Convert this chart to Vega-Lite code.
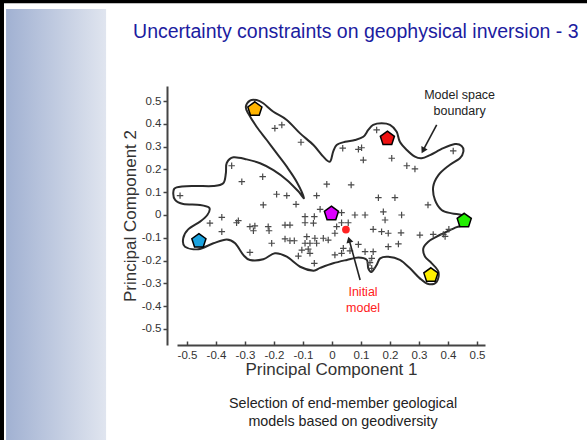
{
  "$schema": "https://vega.github.io/schema/vega-lite/v6.json",
  "width": 308,
  "height": 259,
  "autosize": {"type": "none"},
  "padding": {"left": 177, "top": 86, "right": 102, "bottom": 95},
  "background": "white",
  "config": {"view": {"stroke": null}, "font": "Liberation Sans"},
  "datasets": {
    "frame": [
      {"part": "sidebar", "x": -1.124, "x2": -0.779, "y": 0.904, "y2": -0.99},
      {"part": "top", "x": -1.15, "x2": 0.88, "y": 0.937, "y2": 0.937},
      {"part": "left", "x": -1.138, "x2": -1.138, "y": 0.945, "y2": -0.99}
    ],
    "boundary": [
      {"i": 1, "x": -0.547, "y": 0.102}, {"i": 2, "x": -0.536, "y": 0.121}, {"i": 3, "x": -0.478, "y": 0.127},
      {"i": 4, "x": -0.409, "y": 0.127}, {"i": 5, "x": -0.375, "y": 0.139}, {"i": 6, "x": -0.366, "y": 0.183},
      {"i": 7, "x": -0.363, "y": 0.228}, {"i": 8, "x": -0.340, "y": 0.253}, {"i": 9, "x": -0.294, "y": 0.244},
      {"i": 10, "x": -0.248, "y": 0.227}, {"i": 11, "x": -0.202, "y": 0.197}, {"i": 12, "x": -0.156, "y": 0.154},
      {"i": 13, "x": -0.117, "y": 0.105}, {"i": 14, "x": -0.097, "y": 0.075}, {"i": 15, "x": -0.122, "y": 0.146},
      {"i": 16, "x": -0.156, "y": 0.212}, {"i": 17, "x": -0.191, "y": 0.271}, {"i": 18, "x": -0.225, "y": 0.329},
      {"i": 19, "x": -0.260, "y": 0.387}, {"i": 20, "x": -0.289, "y": 0.446}, {"i": 21, "x": -0.297, "y": 0.475},
      {"i": 22, "x": -0.283, "y": 0.502}, {"i": 23, "x": -0.260, "y": 0.504}, {"i": 24, "x": -0.237, "y": 0.490},
      {"i": 25, "x": -0.202, "y": 0.453}, {"i": 26, "x": -0.156, "y": 0.417}, {"i": 27, "x": -0.110, "y": 0.358},
      {"i": 28, "x": -0.064, "y": 0.307}, {"i": 29, "x": -0.030, "y": 0.256}, {"i": 30, "x": -0.007, "y": 0.234},
      {"i": 31, "x": 0.004, "y": 0.278}, {"i": 32, "x": 0.016, "y": 0.307}, {"i": 33, "x": 0.045, "y": 0.321},
      {"i": 34, "x": 0.079, "y": 0.329}, {"i": 35, "x": 0.108, "y": 0.343}, {"i": 36, "x": 0.125, "y": 0.373},
      {"i": 37, "x": 0.142, "y": 0.395}, {"i": 38, "x": 0.171, "y": 0.402}, {"i": 39, "x": 0.200, "y": 0.395},
      {"i": 40, "x": 0.223, "y": 0.365}, {"i": 41, "x": 0.234, "y": 0.321}, {"i": 42, "x": 0.258, "y": 0.285},
      {"i": 43, "x": 0.286, "y": 0.256}, {"i": 44, "x": 0.309, "y": 0.249}, {"i": 45, "x": 0.338, "y": 0.263},
      {"i": 46, "x": 0.384, "y": 0.293}, {"i": 47, "x": 0.424, "y": 0.311}, {"i": 48, "x": 0.447, "y": 0.303},
      {"i": 49, "x": 0.453, "y": 0.278}, {"i": 50, "x": 0.441, "y": 0.249}, {"i": 51, "x": 0.401, "y": 0.215},
      {"i": 52, "x": 0.367, "y": 0.175}, {"i": 53, "x": 0.349, "y": 0.124}, {"i": 54, "x": 0.355, "y": 0.066},
      {"i": 55, "x": 0.378, "y": 0.022}, {"i": 56, "x": 0.413, "y": 0.007}, {"i": 57, "x": 0.447, "y": 0.000},
      {"i": 58, "x": 0.469, "y": -0.018}, {"i": 59, "x": 0.452, "y": -0.044}, {"i": 60, "x": 0.430, "y": -0.053},
      {"i": 61, "x": 0.396, "y": -0.073}, {"i": 62, "x": 0.361, "y": -0.095}, {"i": 63, "x": 0.332, "y": -0.117},
      {"i": 64, "x": 0.315, "y": -0.146}, {"i": 65, "x": 0.321, "y": -0.183}, {"i": 66, "x": 0.344, "y": -0.212},
      {"i": 67, "x": 0.367, "y": -0.249}, {"i": 68, "x": 0.361, "y": -0.293}, {"i": 69, "x": 0.332, "y": -0.303},
      {"i": 70, "x": 0.303, "y": -0.278}, {"i": 71, "x": 0.269, "y": -0.234}, {"i": 72, "x": 0.234, "y": -0.197},
      {"i": 73, "x": 0.194, "y": -0.183}, {"i": 74, "x": 0.166, "y": -0.190}, {"i": 75, "x": 0.154, "y": -0.219},
      {"i": 76, "x": 0.137, "y": -0.249}, {"i": 77, "x": 0.125, "y": -0.234}, {"i": 78, "x": 0.120, "y": -0.197},
      {"i": 79, "x": 0.091, "y": -0.186}, {"i": 80, "x": 0.051, "y": -0.197}, {"i": 81, "x": 0.004, "y": -0.212},
      {"i": 82, "x": -0.041, "y": -0.232}, {"i": 83, "x": -0.064, "y": -0.244}, {"i": 84, "x": -0.110, "y": -0.227},
      {"i": 85, "x": -0.156, "y": -0.183}, {"i": 86, "x": -0.197, "y": -0.168}, {"i": 87, "x": -0.237, "y": -0.194},
      {"i": 88, "x": -0.283, "y": -0.197}, {"i": 89, "x": -0.306, "y": -0.175}, {"i": 90, "x": -0.334, "y": -0.124},
      {"i": 91, "x": -0.363, "y": -0.107}, {"i": 92, "x": -0.409, "y": -0.124}, {"i": 93, "x": -0.461, "y": -0.150},
      {"i": 94, "x": -0.507, "y": -0.139}, {"i": 95, "x": -0.513, "y": -0.102}, {"i": 96, "x": -0.496, "y": -0.063},
      {"i": 97, "x": -0.455, "y": -0.029}, {"i": 98, "x": -0.430, "y": 0.000}, {"i": 99, "x": -0.423, "y": 0.031},
      {"i": 100, "x": -0.455, "y": 0.044}, {"i": 101, "x": -0.513, "y": 0.048}, {"i": 102, "x": -0.541, "y": 0.066}
    ],
    "samples": [
      {"x": -0.197, "y": 0.380}, {"x": -0.173, "y": 0.395}, {"x": -0.107, "y": 0.319}, {"x": -0.346, "y": 0.216},
      {"x": -0.239, "y": 0.168}, {"x": -0.311, "y": 0.146}, {"x": -0.018, "y": 0.135}, {"x": -0.191, "y": 0.091},
      {"x": -0.156, "y": 0.085}, {"x": -0.053, "y": 0.085}, {"x": -0.237, "y": 0.044}, {"x": -0.124, "y": 0.047},
      {"x": -0.041, "y": 0.025}, {"x": 0.037, "y": 0.293}, {"x": 0.091, "y": 0.288}, {"x": 0.102, "y": 0.295},
      {"x": 0.154, "y": 0.373}, {"x": 0.108, "y": 0.241}, {"x": 0.206, "y": 0.249}, {"x": 0.258, "y": 0.216},
      {"x": 0.286, "y": 0.202}, {"x": 0.418, "y": 0.281}, {"x": 0.066, "y": 0.132}, {"x": 0.160, "y": 0.076},
      {"x": 0.217, "y": 0.076}, {"x": 0.331, "y": 0.044}, {"x": -0.524, "y": 0.085},
      {"x": 0.033, "y": 0.010}, {"x": 0.079, "y": 0.0}, {"x": 0.114, "y": 0.0}, {"x": 0.177, "y": 0.014},
      {"x": 0.183, "y": -0.022}, {"x": 0.240, "y": 0.0},
      {"x": 0.016, "y": -0.051}, {"x": 0.033, "y": -0.034}, {"x": 0.056, "y": -0.034}, {"x": 0.010, "y": -0.080},
      {"x": 0.142, "y": -0.063}, {"x": 0.171, "y": -0.073}, {"x": 0.194, "y": -0.080}, {"x": 0.238, "y": -0.078},
      {"x": 0.303, "y": -0.088}, {"x": 0.349, "y": -0.085}, {"x": 0.384, "y": -0.085}, {"x": 0.390, "y": -0.094},
      {"x": 0.403, "y": -0.063}, {"x": 0.091, "y": -0.129}, {"x": 0.229, "y": -0.127}, {"x": 0.194, "y": -0.139},
      {"x": 0.039, "y": -0.146}, {"x": 0.033, "y": -0.168}, {"x": 0.062, "y": -0.157}, {"x": 0.114, "y": -0.161},
      {"x": 0.142, "y": -0.161}, {"x": 0.010, "y": -0.175}, {"x": 0.137, "y": -0.190}, {"x": 0.131, "y": -0.209},
      {"x": 0.137, "y": -0.234},
      {"x": -0.380, "y": -0.010}, {"x": -0.421, "y": -0.036}, {"x": -0.329, "y": -0.034}, {"x": -0.323, "y": -0.025},
      {"x": -0.380, "y": -0.073}, {"x": -0.283, "y": -0.051}, {"x": -0.266, "y": -0.048}, {"x": -0.271, "y": -0.069},
      {"x": -0.220, "y": -0.051}, {"x": -0.217, "y": -0.069}, {"x": -0.162, "y": -0.044}, {"x": -0.145, "y": -0.044},
      {"x": -0.093, "y": -0.007}, {"x": -0.061, "y": -0.007}, {"x": -0.093, "y": -0.034}, {"x": -0.064, "y": -0.036},
      {"x": -0.208, "y": -0.124}, {"x": -0.162, "y": -0.105}, {"x": -0.145, "y": -0.113}, {"x": -0.130, "y": -0.113},
      {"x": -0.087, "y": -0.095}, {"x": -0.059, "y": -0.102}, {"x": -0.030, "y": -0.102}, {"x": -0.013, "y": -0.110},
      {"x": -0.093, "y": -0.124}, {"x": -0.076, "y": -0.124}, {"x": -0.053, "y": -0.124}, {"x": -0.082, "y": -0.150},
      {"x": -0.104, "y": -0.154}, {"x": -0.076, "y": -0.168}, {"x": -0.116, "y": -0.180}, {"x": -0.283, "y": -0.164},
      {"x": -0.061, "y": -0.212}
    ],
    "endmembers": [
      {"model": "A", "x": -0.266, "y": 0.464},
      {"model": "B", "x": 0.191, "y": 0.335},
      {"model": "C", "x": -0.002, "y": 0.006},
      {"model": "D", "x": 0.456, "y": -0.025},
      {"model": "E", "x": 0.341, "y": -0.264},
      {"model": "F", "x": -0.459, "y": -0.114}
    ],
    "initial": [{"x": 0.048, "y": -0.064}],
    "notes": [
      {"kind": "title", "label": "Uncertainty constraints on geophysical inversion - 3", "x": -0.686, "y": 0.776},
      {"kind": "boundary", "label": "Model space\nboundary", "x": 0.440, "y": 0.509},
      {"kind": "initial", "label": "Initial\nmodel", "x": 0.107, "y": -0.355},
      {"kind": "caption", "label": "Selection of end-member geological\nmodels based on geodiversity", "x": 0.038, "y": -0.846}
    ],
    "arrows": [
      {"kind": "boundary", "x": 0.361, "y": 0.395, "x2": 0.314, "y2": 0.283},
      {"kind": "initial", "x": 0.097, "y": -0.285, "x2": 0.059, "y2": -0.108}
    ]
  },
  "encoding": {
    "x": {
      "field": "x",
      "type": "quantitative",
      "scale": {"domain": [-0.5345, 0.5276], "nice": false, "zero": false},
      "axis": {
        "title": "Principal Component 1",
        "values": [-0.5, -0.4, -0.3, -0.2, -0.1, 0, 0.1, 0.2, 0.3, 0.4, 0.5],
        "labelExpr": "datum.value == 0 ? '0' : (datum.value < 0 ? '-' : '') + format(abs(datum.value), '.1f')",
        "grid": false,
        "tickSize": -4,
        "labelPadding": 8,
        "labelFlush": false,
        "labelOverlap": false,
        "domainColor": "#444444",
        "domainWidth": 2,
        "tickColor": "#444444",
        "tickWidth": 1.5,
        "labelFont": "Liberation Sans",
        "labelFontSize": 11.5,
        "labelColor": "#333333",
        "titleFont": "Liberation Sans",
        "titleFontSize": 17,
        "titleFontWeight": "normal",
        "titleColor": "#333333",
        "titlePadding": 1
      }
    },
    "y": {
      "field": "y",
      "type": "quantitative",
      "scale": {"domain": [-0.5702, 0.5658], "nice": false, "zero": false},
      "axis": {
        "title": "Principal Component 2",
        "values": [-0.5, -0.4, -0.3, -0.2, -0.1, 0, 0.1, 0.2, 0.3, 0.4, 0.5],
        "labelExpr": "datum.value == 0 ? '0' : (datum.value < 0 ? '-' : '') + format(abs(datum.value), '.1f')",
        "grid": false,
        "offset": 10,
        "tickSize": 4,
        "labelPadding": 2,
        "labelFlush": false,
        "labelOverlap": false,
        "domainColor": "#444444",
        "domainWidth": 2,
        "tickColor": "#444444",
        "tickWidth": 1.5,
        "labelFont": "Liberation Sans",
        "labelFontSize": 11.5,
        "labelColor": "#333333",
        "titleFont": "Liberation Sans",
        "titleFontSize": 17,
        "titleFontWeight": "normal",
        "titleColor": "#333333",
        "titlePadding": 2
      }
    }
  },
  "layer": [
    {
      "data": {"name": "frame"},
      "transform": [{"filter": "datum.part == 'sidebar'"}],
      "mark": {
        "type": "rect",
        "clip": false,
        "color": {
          "gradient": "linear",
          "x1": 0, "x2": 1, "y1": 0, "y2": 0,
          "stops": [{"offset": 0, "color": "#a1b1d2"}, {"offset": 1, "color": "#e0e5ef"}]
        }
      },
      "encoding": {
        "x2": {"field": "x2"},
        "y2": {"field": "y2"}
      }
    },
    {
      "data": {"name": "frame"},
      "transform": [{"filter": "datum.part != 'sidebar'"}],
      "mark": {"type": "rule", "color": "#000000", "strokeWidth": 4, "clip": false},
      "encoding": {
        "x2": {"field": "x2"},
        "y2": {"field": "y2"}
      }
    },
    {
      "data": {"values": [{}]},
      "mark": {"type": "rule", "color": "#8a8a8a", "strokeWidth": 2},
      "encoding": {"x": {"datum": 0, "type": "quantitative"}}
    },
    {
      "data": {"values": [{}]},
      "mark": {"type": "rule", "color": "#8a8a8a", "strokeWidth": 2},
      "encoding": {"y": {"datum": 0, "type": "quantitative"}}
    },
    {
      "data": {"name": "boundary"},
      "mark": {"type": "line", "interpolate": "cardinal-closed", "color": "#2a2a2a", "strokeWidth": 2},
      "encoding": {"order": {"field": "i", "type": "quantitative"}}
    },
    {
      "data": {"name": "samples"},
      "mark": {"type": "point", "shape": "M-1,0L1,0M0,-1L0,1", "filled": false, "color": "#4a4a4a", "strokeWidth": 1.2, "size": 42, "opacity": 1}
    },
    {
      "data": {"name": "arrows"},
      "mark": {"type": "rule", "color": "#222222", "strokeWidth": 1.6},
      "encoding": {"x2": {"field": "x2"}, "y2": {"field": "y2"}}
    },
    {
      "data": {"name": "arrows"},
      "transform": [{"filter": "datum.kind == 'boundary'"}],
      "mark": {"type": "point", "shape": "triangle-up", "filled": true, "color": "#222222", "size": 50, "angle": 208, "opacity": 1},
      "encoding": {"x": {"field": "x2", "type": "quantitative"}, "y": {"field": "y2", "type": "quantitative"}}
    },
    {
      "data": {"name": "arrows"},
      "transform": [{"filter": "datum.kind == 'initial'"}],
      "mark": {"type": "point", "shape": "triangle-up", "filled": true, "color": "#222222", "size": 50, "angle": 345, "opacity": 1},
      "encoding": {"x": {"field": "x2", "type": "quantitative"}, "y": {"field": "y2", "type": "quantitative"}}
    },
    {
      "data": {"name": "endmembers"},
      "mark": {"type": "point", "shape": "M0,-1L0.951,-0.309L0.588,0.809L-0.588,0.809L-0.951,-0.309Z", "filled": true, "stroke": "#000000", "strokeWidth": 1.5, "size": 220, "opacity": 1},
      "encoding": {
        "color": {
          "field": "model",
          "type": "nominal",
          "scale": {"domain": ["A", "B", "C", "D", "E", "F"], "range": ["#ffb400", "#ee1111", "#dd00ff", "#22ee00", "#fff000", "#1ba3df"]},
          "legend": null
        }
      }
    },
    {
      "data": {"name": "initial"},
      "mark": {"type": "point", "shape": "circle", "filled": true, "color": "#ff2222", "size": 60, "opacity": 1}
    },
    {
      "data": {"name": "notes"},
      "transform": [{"filter": "datum.kind == 'title'"}],
      "mark": {"type": "text", "font": "Liberation Sans", "fontSize": 19.5, "color": "#1c1ca0", "align": "left", "baseline": "alphabetic", "clip": false},
      "encoding": {"text": {"field": "label"}}
    },
    {
      "data": {"name": "notes"},
      "transform": [{"filter": "datum.kind == 'boundary'"}],
      "mark": {"type": "text", "font": "Liberation Sans", "fontSize": 12.5, "color": "#222222", "align": "center", "baseline": "alphabetic", "lineBreak": "\n", "lineHeight": 16},
      "encoding": {"text": {"field": "label"}}
    },
    {
      "data": {"name": "notes"},
      "transform": [{"filter": "datum.kind == 'initial'"}],
      "mark": {"type": "text", "font": "Liberation Sans", "fontSize": 12.5, "color": "#ff2020", "align": "center", "baseline": "alphabetic", "lineBreak": "\n", "lineHeight": 16},
      "encoding": {"text": {"field": "label"}}
    },
    {
      "data": {"name": "notes"},
      "transform": [{"filter": "datum.kind == 'caption'"}],
      "mark": {"type": "text", "font": "Liberation Sans", "fontSize": 14.3, "color": "#222222", "align": "center", "baseline": "alphabetic", "lineBreak": "\n", "lineHeight": 18},
      "encoding": {"text": {"field": "label"}}
    }
  ]
}
